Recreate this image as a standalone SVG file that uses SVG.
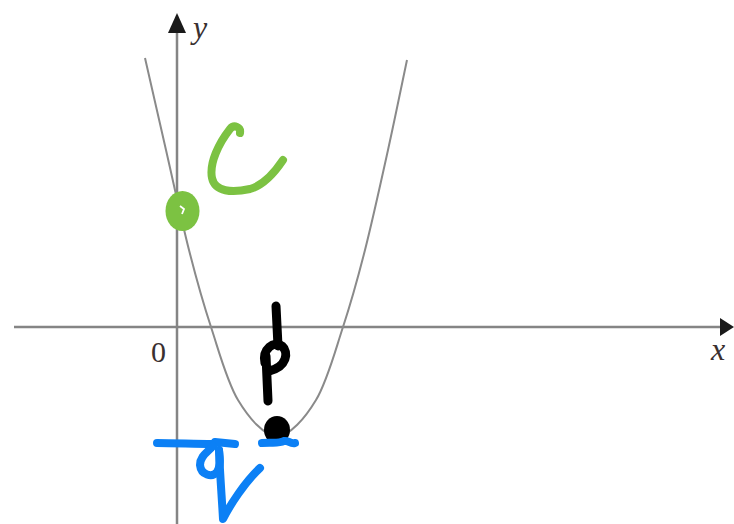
<svg xmlns="http://www.w3.org/2000/svg" width="734" height="524" viewBox="0 0 734 524">
<style>
.axis{stroke:#858585;stroke-width:2.5;fill:none}
.curve{stroke:#8a8a8a;stroke-width:2;fill:none}
.lbl{font-family:"Liberation Serif","DejaVu Serif",serif;font-style:italic;font-size:32px;fill:#3a3030}
.num{font-family:"Liberation Serif","DejaVu Serif",serif;font-size:30px;fill:#3a3030}
.ink{fill:none;stroke-width:8;stroke-linecap:round;stroke-linejoin:round}
.green{stroke:#7cc242}
.black{stroke:#000;stroke-width:9}
.blue{stroke:#0c80f5}
</style>
<rect width="734" height="524" fill="#fff"/>
<g id="axes">
<line class="axis" x1="14" y1="327" x2="722" y2="327"/>
<polygon points="734,327 720,318 720,336" fill="#1a1a1a"/>
<line class="axis" x1="177" y1="524" x2="177" y2="30"/>
<polygon points="177,13 168,33 186,33" fill="#1a1a1a"/>
<text class="lbl" x="193" y="38">y</text>
<text class="lbl" x="711" y="360">x</text>
<text class="num" x="151" y="362">0</text>
</g>
<g id="parabola">
<path class="curve" d="M145,58 C148.5,73.3 158.7,118 166,150 C173.3,182 181.5,220.5 189,250 C196.5,279.5 202.8,302 211,327 C219.2,352 227,381.8 238,400 C249,418.2 264,436 277,436 C290,436 305,418.2 316,400 C327,381.8 334.8,352 343,327 C351.2,302 357.5,279.5 365,250 C372.5,220.5 381,181.7 388,150 C395,118.3 403.8,75 407,60"/>
</g>
<g id="c-annotation">
<ellipse cx="182.5" cy="211" rx="17" ry="20" fill="#7cc242"/>
<path d="M180,206 L184,209 L182,214" stroke="#fff" stroke-width="1.8" fill="none"/>
<path class="ink green" d="M240,133 C241,127 234,124 230,129 C219,143 209,163 212,178 C215,192 232,193 250,189 C264,185 275,172 283,160"/>
</g>
<g id="p-annotation">
<ellipse cx="277" cy="430" rx="13" ry="14" fill="#000"/>
<path class="ink black" d="M276,306 L278,346"/>
<path class="ink black" d="M266,356 L268,401"/>
<path class="ink black" d="M265,363 C262,349 274,340 282,346 C289,352 287,367 269,371"/>
</g>
<g id="q-annotation">
<path class="ink blue" d="M157,443 C175,443 195,444 212,444"/>
<path class="ink blue" d="M215,442 L235,444"/>
<path class="ink blue" d="M213,446 C208,452 200,456 200,465 C201,475 212,478 217,472 C221,466 220,458 219,450"/>
<path class="ink blue" d="M219,450 C220,475 222,500 223,519 C230,505 245,482 260,468"/>
<path class="ink blue" d="M262,443 C272,442 278,444 284,441 C288,440 290,444 295,443"/>
</g>
</svg>
